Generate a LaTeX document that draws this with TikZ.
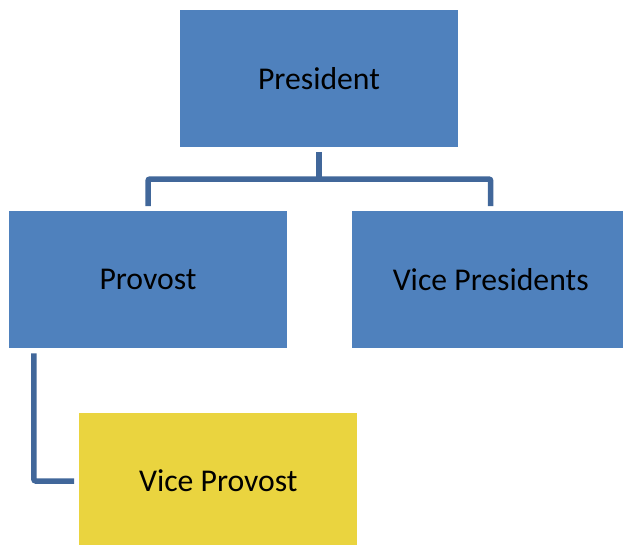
\documentclass[tikz,border=0pt]{standalone}
\usepackage{fontspec}
\setmainfont{Carlito}
\definecolor{boxblue}{HTML}{4F81BD}
\definecolor{lineblue}{HTML}{41679A}
\definecolor{boxyellow}{HTML}{EAD43F}
\begin{document}
\begin{tikzpicture}[x=1pt,y=-1pt,
  orgbox/.style={rectangle, fill=boxblue, draw=none, inner sep=0pt,
    minimum width=278pt, minimum height=136.5pt,
    font=\fontsize{31.7}{38}\selectfont, text=black},
  conn/.style={draw=lineblue, line width=5.5pt, rounded corners=2pt}]
\useasboundingbox (0,0) rectangle (623,544);
\node[orgbox] (pres) at (319,78.5) {President};
\node[orgbox] (prov) at (148,279.5) {Provost};
\node[orgbox] (vp) at (490.7,279.5) {Vice Presidents};
\node[orgbox, fill=boxyellow] (vprov) at (218.3,481) {Vice Provost};
\coordinate (bus) at (319,179);
\draw[conn] ([yshift=-5pt]pres.south) -- (bus);
\draw[conn] ([yshift=5pt]prov.north) |- (bus) -| ([yshift=5pt]vp.north);
\draw[conn] ([xshift=25pt,yshift=-5.5pt]prov.south west) |- ([xshift=-5pt]vprov.west);
\end{tikzpicture}
\end{document}
